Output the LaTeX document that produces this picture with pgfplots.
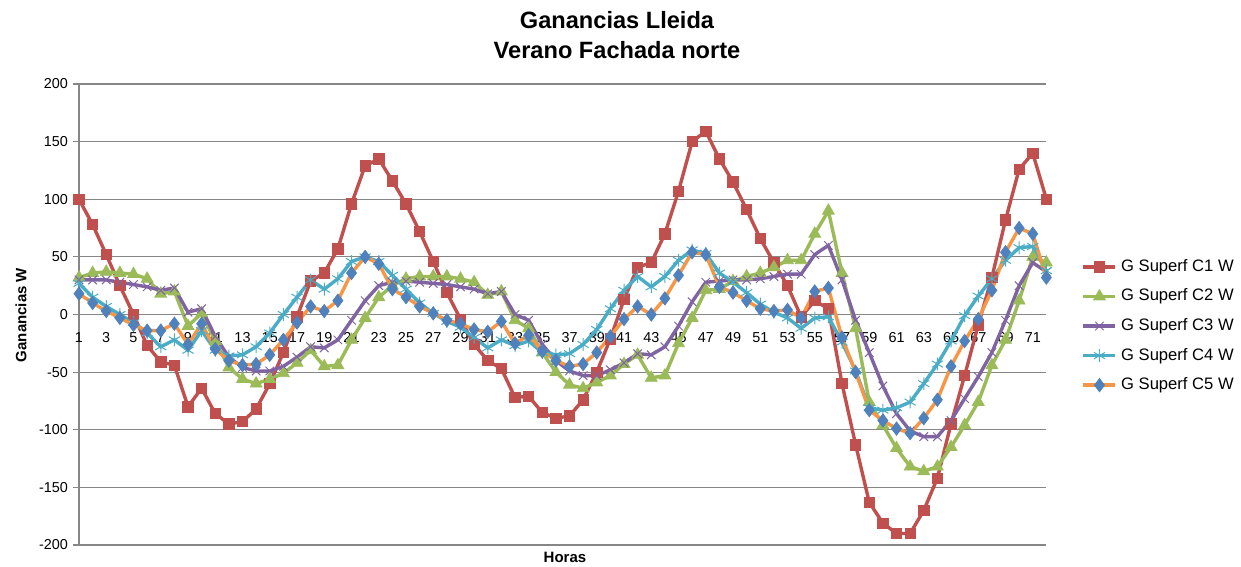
\documentclass[border=0pt]{standalone}
\usepackage{fontspec}
\setmainfont{Liberation Sans}
\usepackage{pgfplots}
\usepackage{pgfplotstable}
\pgfplotsset{compat=1.18}
\definecolor{cA}{HTML}{C0504D}
\definecolor{cB}{HTML}{9BBB59}
\definecolor{cC}{HTML}{8064A2}
\definecolor{cD}{HTML}{4BACC6}
\definecolor{cE}{HTML}{F79646}
\definecolor{cEm}{HTML}{4F81BD}
\definecolor{gridc}{HTML}{868686}
\pgfplotstableread{
x c1 c2 c3 c4 c5
1 100 32 30 27 18
2 78 36 30 15 10
3 52 37 30 7 3
4 25 36 28 0 -3
5 0 35 26 -7 -9
6 -27 31 24 -16 -14
7 -41 18 21 -28 -14
8 -44 20 23 -22 -8
9 -80 -10 2 -31 -26
10 -64 1 5 -14 -8
11 -86 -23 -19 -31 -30
12 -95 -46 -37 -36 -40
13 -93 -56 -46 -35 -44
14 -82 -60 -49 -28 -43
15 -60 -56 -49 -16 -35
16 -33 -51 -45 0 -22
17 -2 -42 -37 15 -7
18 29 -31 -28 30 7
19 36 -45 -29 22 3
20 57 -44 -22 31 12
21 96 -22 -5 46 36
22 129 -3 12 50 50
23 135 15 25 46 44
24 116 25 28 34 22
25 96 31 29 22 15
26 72 33 28 10 7
27 46 33 27 1 1
28 19 33 26 -6 -5
29 -4 31 24 -11 -8
30 -26 28 22 -20 -13
31 -40 17 18 -29 -15
32 -47 20 20 -22 -6
33 -72 -5 0 -27 -25
34 -71 -12 -5 -23 -18
35 -85 -33 -26 -33 -32
36 -90 -50 -40 -35 -40
37 -88 -61 -49 -34 -45
38 -74 -64 -53 -26 -43
39 -50 -59 -53 -13 -33
40 -21 -53 -48 5 -19
41 13 -43 -42 21 -4
42 41 -35 -34 33 7
43 45 -55 -35 24 0
44 70 -53 -28 33 14
45 107 -25 -10 47 34
46 150 -3 11 56 54
47 159 21 28 53 52
48 135 22 29 36 24
49 115 29 30 28 19
50 91 33 30 19 12
51 66 36 31 9 5
52 45 41 33 2 3
53 25 47 35 -3 4
54 -2 47 35 -12 -3
55 12 70 52 -3 20
56 5 90 60 -2 23
57 -60 36 30 -24 -20
58 -113 -12 -5 -49 -50
59 -163 -76 -33 -81 -83
60 -181 -96 -62 -83 -92
61 -190 -116 -86 -81 -99
62 -190 -132 -101 -76 -103
63 -170 -136 -106 -60 -90
64 -142 -132 -106 -43 -74
65 -95 -115 -92 -23 -45
66 -53 -96 -73 -1 -23
67 -9 -76 -54 16 -4
68 32 -44 -33 31 21
69 82 -22 -5 47 54
70 126 12 25 58 75
71 140 50 45 59 70
72 100 45 37 38 32
}\datatable
\begin{document}
\begin{tikzpicture}
\path[use as bounding box] (-39.5bp,-11bp) rectangle (581bp,272.5bp);
\begin{axis}[
  at={(0,0)}, anchor=south west,
  scale only axis, width=483.7bp, height=230.5bp,
  xmin=1, xmax=72, ymin=-200, ymax=200,
  axis x line=middle, axis y line=left,
  axis line style={draw=gridc, line width=0.6bp, -},
  hide obscured x ticks=false,
  xtick={1,3,...,71},
  ytick={-200,-150,...,200},
  xtick style={draw=none},
  ytick style={draw=gridc, line width=0.6bp},
  tick align=outside, major tick length=3bp,
  ymajorgrids, grid style={draw=gridc, line width=0.6bp},
  tick label style={font=\fontsize{7.2bp}{9bp}\selectfont, text=black},
  xticklabel style={anchor=north, yshift=-2.3bp},
  yticklabel style={anchor=east, xshift=1bp},
  /pgf/number format/assume math mode=true,
  clip=false,
  legend style={draw=none, fill=none, at={(1.03,0.475)}, anchor=west,
    font=\fontsize{8.3bp}{10bp}\selectfont, row sep=3.3bp,
    legend cell align=left, /tikz/every even column/.append style={column sep=0bp}},
  legend image code/.code={\draw[mark repeat=2,mark phase=2] plot coordinates {(0bp,0bp) (8bp,0bp) (16bp,0bp)};},
  every axis plot/.append style={line width=1.7bp},
]
\addplot[color=cA, mark=square*, mark size=2.6bp, mark options={fill=cA, draw=cA, line width=0.4bp}] table[x=x,y=c1] {\datatable};
\addlegendentry{G Superf C1 W}
\addplot[color=cB, mark=triangle*, mark size=3.4bp, mark options={fill=cB, draw=cB, line width=0.4bp}] table[x=x,y=c2] {\datatable};
\addlegendentry{G Superf C2 W}
\addplot[color=cC, mark=x, mark size=3bp, mark options={draw=cC, line width=0.5bp}] table[x=x,y=c3] {\datatable};
\addlegendentry{G Superf C3 W}
\addplot[color=cD, mark=asterisk, mark size=3.2bp, mark options={draw=cD, line width=0.5bp}] table[x=x,y=c4] {\datatable};
\addlegendentry{G Superf C4 W}
\addplot[color=cE, mark=diamond*, mark size=3.3bp, mark options={fill=cEm, draw=cEm, line width=0.4bp}] table[x=x,y=c5] {\datatable};
\addlegendentry{G Superf C5 W}
\end{axis}
\node[align=center, font=\bfseries\fontsize{11.8bp}{15bp}\selectfont] at (269bp,255bp) {Ganancias Lleida\\Verano Fachada norte};
\node[rotate=90, font=\bfseries\fontsize{7.5bp}{9bp}\selectfont] at (-29bp,115bp) {Ganancias W};
\node[font=\bfseries\fontsize{7.5bp}{9bp}\selectfont] at (243bp,-6bp) {Horas};
\end{tikzpicture}
\end{document}
